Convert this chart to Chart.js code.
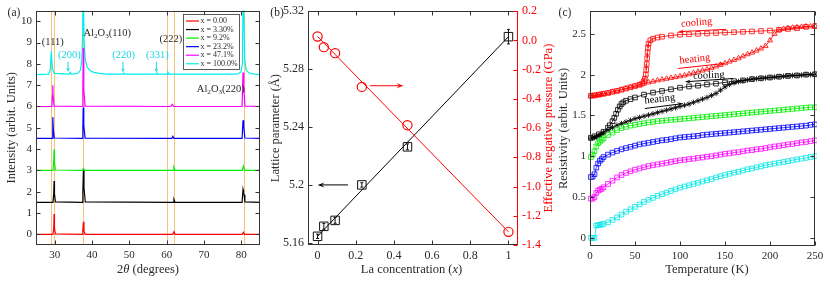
<!DOCTYPE html>
<html>
<head>
<meta charset="utf-8">
<script src="https://cdn.jsdelivr.net/npm/chart.js@4.4.0/dist/chart.umd.min.js"></script>
<style>
  html, body { margin: 0; padding: 0; background: #fff; }
  #wrap { position: relative; width: 830px; height: 286px; }
  canvas { position: absolute; top: 0; }
</style>
</head>
<body>
<div id="wrap">
  <canvas id="ca" width="268" height="286" style="left:0"></canvas>
  <canvas id="cb" width="288" height="286" style="left:268px"></canvas>
  <canvas id="cc" width="274" height="286" style="left:556px"></canvas>
</div>
<script>
// ---------- panel (a): XRD, [2theta, intensity] ----------
const xrdRed = [[25,0],[29.55,0],[29.75,0.3],[29.85,0.95],[29.95,0.3],[30.2,0.02],[37.35,0],[37.55,0.2],[37.7,0.59],[37.85,0.15],[38.2,0],
  [61.65,0],[61.95,0.12],[62.25,0],[80.25,0],[80.55,0.1],[80.85,0],[85,0]];
const xrdBlack = [[25,1.5],[29.55,1.5],[29.75,1.9],[29.85,2.5],[29.95,1.9],[30.2,1.52],[37.35,1.5],[37.55,2.0],[37.7,3.0],[37.85,2.2],[38.2,1.52],
  [61.7,1.5],[61.95,1.64],[62.25,1.5],[80.2,1.5],[80.45,2.1],[80.6,1.95],[80.75,1.85],[80.95,1.52],[85,1.5]];
const xrdGreen = [[25,3],[29.55,3],[29.75,3.4],[29.85,3.98],[29.95,3.4],[30.2,3.02],[37.4,3],[37.7,3.1],[38.0,3],
  [61.7,3],[61.95,3.15],[62.25,3],[80.25,3],[80.55,3.2],[80.85,3],[85,3]];
const xrdBlue = [[25,4.5],[29.3,4.5],[29.45,4.9],[29.55,5.5],[29.65,4.9],[29.9,4.52],[37.35,4.5],[37.55,5.0],[37.65,5.95],[37.8,5.1],[38.15,4.52],
  [61.4,4.5],[61.65,4.6],[61.95,4.5],[80.2,4.5],[80.45,5.35],[80.6,5.1],[80.7,5.05],[80.95,4.52],[85,4.5]];
const xrdMagenta = [[25,6],[29.25,6],[29.4,6.5],[29.5,7.0],[29.6,6.5],[29.85,6.02],[37.35,6],[37.55,6.8],[37.65,8.75],[37.8,6.8],[38.15,6.02],
  [61.1,6],[61.5,6.1],[61.9,6],[80.2,6],[80.45,7.6],[80.6,7.1],[80.7,7.05],[80.95,6.02],[85,6]];
const xrdCyan = [[25,7.5],[28.4,7.52],[28.8,7.7],[29.1,8.6],[29.4,7.8],[29.9,7.55],[33.9,7.52],[34.2,7.6],[34.5,7.52],
  [35.5,7.53],[36.3,7.57],[36.9,7.7],[37.3,8.2],[37.5,9.5],[37.6,12],[37.7,12],[37.9,9.0],[38.2,8.2],[38.7,7.85],[39.5,7.68],[40.5,7.6],[42,7.55],[44,7.52],
  [48.3,7.52],[48.5,7.57],[48.7,7.52],[57.2,7.52],[57.4,7.57],[57.6,7.52],[60.1,7.52],[60.35,7.6],[60.6,7.52],
  [78.5,7.52],[79.3,7.55],[79.9,7.62],[80.3,8.0],[80.5,12],[80.7,12],[80.9,8.2],[81.3,7.7],[82,7.58],[83,7.53],[85,7.5]];
const xrdSeries = [xrdRed, xrdBlack, xrdGreen, xrdBlue, xrdMagenta, xrdCyan];
const seriesLabels = ['x = 0.00', 'x = 3.30%', 'x = 9.2%', 'x = 23.2%', 'x = 47.1%', 'x = 100.0%'];
const seriesColors = ['#ff0000', '#000000', '#00ee00', '#0000ff', '#ff00ff', '#00eeee'];
const refLines = [28.95, 29.85, 37.6, 60.1, 61.95, 80.6];
const aTicksX = [30, 40, 50, 60, 70, 80];
const aTicksY = [0, 1, 2, 3, 4, 5, 6, 7, 8, 9, 10];

// ---------- panel (b): lattice / pressure ----------
const concX = [0, 0.033, 0.092, 0.232, 0.471, 1.0];
const latticeA = [5.1645, 5.1714, 5.1755, 5.2, 5.2263, 5.3024];
const latticeErr = [0.0015, 0.002, 0.002, 0.0015, 0.002, 0.005];
const pressure = [0.027, -0.046, -0.087, -0.318, -0.58, -1.31];
const fitX = [0, 1];
const latticeFit = [5.1645, 5.3024];
const pressureFit = [0.027, -1.31];
const bTicksX = [0, 0.2, 0.4, 0.6, 0.8, 1];
const bTicksY = [5.16, 5.2, 5.24, 5.28, 5.32];
const bTicksY2 = [0.2, 0, -0.2, -0.4, -0.6, -0.8, -1.0, -1.2, -1.4];

// ---------- panel (c): resistivity vs temperature ----------
const tempGrid = [1,3,5,7,9,11,13,15,
  20,25,30,35,40,45,50,55,60,65, 70,75,80,85,90,95,100,105,110,115,
  120,125,130,135,140,145,150,155,160,165, 170,175,180,185,190,195,200,205,210,215,
  220,225,230,235,240,245,250];
const rhoCyan = [0,0,0,0.15,0.155,0.16,0.165,0.17,
  0.19,0.22,0.25,0.285,0.32,0.35,0.38,0.41,0.44,0.465,
  0.49,0.515,0.535,0.555,0.575,0.595,0.615,0.63,0.645,0.66,
  0.675,0.69,0.705,0.72,0.74,0.755,0.77,0.785,0.80,0.81,
  0.825,0.84,0.85,0.865,0.875,0.89,0.90,0.91,0.92,0.93,
  0.94,0.95,0.96,0.97,0.98,0.99,1.0];
const rhoMagenta = [0.48,0.48,0.50,0.55,0.58,0.59,0.60,0.62,
  0.66,0.70,0.74,0.77,0.795,0.815,0.835,0.85,0.865,0.88,
  0.89,0.90,0.91,0.92,0.93,0.94,0.95,0.955,0.965,0.97,
  0.98,0.985,0.995,1.0,1.01,1.02,1.03,1.035,1.045,1.05,
  1.06,1.07,1.075,1.085,1.09,1.10,1.11,1.12,1.125,1.135,
  1.145,1.15,1.16,1.17,1.175,1.185,1.195];
const rhoBlue = [0.745,0.75,0.78,0.86,0.91,0.945,0.965,0.99,
  1.02,1.045,1.065,1.085,1.10,1.115,1.13,1.145,1.155,1.165,
  1.175,1.185,1.195,1.20,1.21,1.22,1.23,1.235,1.24,1.245,
  1.25,1.26,1.265,1.27,1.275,1.28,1.285,1.29,1.295,1.30,
  1.305,1.31,1.315,1.32,1.325,1.33,1.335,1.34,1.345,1.35,
  1.355,1.36,1.365,1.37,1.375,1.385,1.39];
const rhoGreen = [0.99,1.02,1.06,1.12,1.16,1.18,1.20,1.22,
  1.26,1.29,1.32,1.345,1.36,1.375,1.385,1.395,1.405,1.415,
  1.42,1.43,1.435,1.44,1.445,1.45,1.455,1.46,1.465,1.47,
  1.475,1.48,1.485,1.49,1.495,1.50,1.505,1.51,1.515,1.52,
  1.525,1.53,1.535,1.54,1.545,1.55,1.555,1.56,1.565,1.57,
  1.575,1.58,1.585,1.59,1.595,1.60,1.60];
const rhoBlackHeat = [1.22,1.225,1.23,1.24,1.25,1.26,1.27,1.29,
  1.32,1.35,1.38,1.40,1.42,1.44,1.46,1.475,1.49,1.505,
  1.52,1.535,1.55,1.565,1.58,1.595,1.61,1.625,1.64,1.66,
  1.68,1.70,1.72,1.745,1.77,1.81,1.85,1.88,1.90,1.915,
  1.925,1.935,1.945,1.95,1.955,1.96,1.965,1.97,1.975,1.98,
  1.985,1.99,1.99,1.995,2.0,2.0,2.005];
const rhoRedHeat = [1.74,1.74,1.745,1.745,1.75,1.755,1.76,1.765,
  1.775,1.79,1.80,1.815,1.83,1.845,1.86,1.875,1.89,1.905,
  1.915,1.93,1.94,1.95,1.96,1.97,1.98,1.99,2.005,2.02,
  2.035,2.05,2.065,2.08,2.10,2.12,2.14,2.16,2.18,2.20,
  2.225,2.25,2.27,2.295,2.32,2.35,2.42,2.50,2.545,2.56,
  2.57,2.575,2.58,2.585,2.59,2.59,2.595];
const blackCoolT = [250,240,230,220,210,200,190,180,170,160,150,140,130,120,110,100,90,80,70,60,50,
  45,40,37,35,33,31,29,27,25,22,20,15,10,5,1];
const rhoBlackCool = [2.005,2.0,1.99,1.985,1.975,1.965,1.955,1.945,1.93,1.92,1.905,1.89,1.88,1.865,1.855,1.84,1.82,1.80,1.78,1.755,1.72,
  1.70,1.68,1.66,1.64,1.61,1.57,1.52,1.47,1.43,1.38,1.35,1.30,1.27,1.245,1.225];
const redCoolT = [250,240,230,220,210,200,190,180,170,160,150,140,130,120,110,100,90,80,
  75,70,67,65,64.5,64,63.5,63,62.5,62,61,60,58,55,
  50,45,40,35,30,25,20,15,10,5,1];
const rhoRedCool = [2.595,2.585,2.57,2.56,2.55,2.54,2.535,2.53,2.525,2.52,2.515,2.51,2.505,2.50,2.495,2.49,2.48,2.465,
  2.455,2.44,2.42,2.38,2.33,2.27,2.20,2.13,2.06,2.00,1.95,1.92,1.89,1.875,
  1.86,1.845,1.83,1.815,1.80,1.79,1.775,1.765,1.755,1.745,1.74];
const cTicksX = [0, 50, 100, 150, 200, 250];
const cTicksY = [0, 0.5, 1, 1.5, 2, 2.5];

// ---------- helpers ----------
const SERIF = "'Liberation Serif','DejaVu Serif',serif";
Chart.defaults.font.family = SERIF;
const TXT = '#2a2a2a';

function richText(ctx, segs, x, y, size, color, angle, align) {
  const fnt = st => (st === 'i' ? 'italic ' : '') + (st === 's' ? size * 0.68 : size) + 'px ' + SERIF;
  let w = 0;
  segs.forEach(([t, st]) => { ctx.font = fnt(st); w += ctx.measureText(t).width; });
  ctx.save();
  ctx.translate(x, y);
  ctx.rotate((angle || 0) * Math.PI / 180);
  ctx.fillStyle = color;
  ctx.textAlign = 'left';
  ctx.textBaseline = 'middle';
  let cx = align === 'left' ? 0 : -w / 2;
  segs.forEach(([t, st]) => {
    ctx.font = fnt(st);
    ctx.fillText(t, cx, st === 's' ? size * 0.28 : 0);
    cx += ctx.measureText(t).width;
  });
  ctx.restore();
}

function arrow(ctx, x1, y1, x2, y2, color, head, hw) {
  const ang = Math.atan2(y2 - y1, x2 - x1);
  ctx.save();
  ctx.strokeStyle = color; ctx.fillStyle = color; ctx.lineWidth = 1;
  ctx.beginPath(); ctx.moveTo(x1, y1);
  ctx.lineTo(x2 - Math.cos(ang) * head * 0.6, y2 - Math.sin(ang) * head * 0.6); ctx.stroke();
  ctx.beginPath();
  ctx.moveTo(x2, y2);
  ctx.lineTo(x2 - Math.cos(ang) * head - Math.sin(ang) * hw, y2 - Math.sin(ang) * head + Math.cos(ang) * hw);
  ctx.lineTo(x2 - Math.cos(ang) * head * 0.6, y2 - Math.sin(ang) * head * 0.6);
  ctx.lineTo(x2 - Math.cos(ang) * head + Math.sin(ang) * hw, y2 - Math.sin(ang) * head - Math.cos(ang) * hw);
  ctx.closePath(); ctx.fill();
  ctx.restore();
}

function frame(chart, right, rightColor) {
  const { ctx, chartArea: a, scales } = chart;
  const L = Math.round(a.left) + 0.5, R = Math.round(a.right) - 0.5;
  const T = Math.round(a.top) + 0.5, B = Math.round(a.bottom) - 0.5;
  ctx.save();
  ctx.lineWidth = 1; ctx.strokeStyle = '#333';
  ctx.strokeRect(L, T, R - L, B - T);
  ctx.beginPath();
  scales.x.ticks.forEach(t => {
    const p = Math.round(scales.x.getPixelForValue(t.value)) + 0.5;
    ctx.moveTo(p, B); ctx.lineTo(p, B - 4); ctx.moveTo(p, T); ctx.lineTo(p, T + 4);
  });
  scales.y.ticks.forEach(t => {
    const p = Math.round(scales.y.getPixelForValue(t.value)) + 0.5;
    ctx.moveTo(L, p); ctx.lineTo(L + 4, p);
    if (!right) { ctx.moveTo(R, p); ctx.lineTo(R - 4, p); }
  });
  ctx.stroke();
  if (right) {
    const s = scales[right];
    ctx.strokeStyle = rightColor;
    ctx.beginPath(); ctx.moveTo(R, T); ctx.lineTo(R, B);
    s.ticks.forEach(t => {
      const p = Math.round(s.getPixelForValue(t.value)) + 0.5;
      ctx.moveTo(R, p); ctx.lineTo(R - 4, p);
    });
    ctx.stroke();
  }
  ctx.restore();
}

function axis(pos, min, max, ticks, size, w, fmt, color) {
  return {
    type: 'linear', position: pos, min: min, max: max,
    grid: { display: false, drawTicks: false },
    border: { display: false },
    ticks: { font: { size: size }, color: color || TXT, padding: 4, maxRotation: 0, autoSkip: false,
             callback: fmt || (v => String(v)) },
    afterBuildTicks: s => { s.ticks = ticks.map(v => ({ value: v })); },
    afterFit: s => { if (pos === 'bottom') s.height = w; else s.width = w; }
  };
}

const common = { responsive: false, animation: false, events: [],
  plugins: { legend: { display: false }, tooltip: { enabled: false } } };

// ---------- chart (a) ----------
const aNotes = [
  { segs: [['(111)', '']], x: 29.5, y: 9.03, color: TXT },
  { segs: [['(200)', '']], x: 33.95, y: 8.4, color: '#19d6e6' },
  { segs: [['Al', ''], ['2', 's'], ['O', ''], ['3', 's'], ['(110)', '']], x: 44.1, y: 9.44, color: TXT },
  { segs: [['(220)', '']], x: 48.5, y: 8.4, color: '#19d6e6' },
  { segs: [['(331)', '']], x: 57.5, y: 8.4, color: '#19d6e6' },
  { segs: [['(222)', '']], x: 61.1, y: 9.15, color: TXT },
  { segs: [['Al', ''], ['2', 's'], ['O', ''], ['3', 's'], ['(220)', '']], x: 74.5, y: 6.8, color: TXT }
];
const aArrows = [[33.6, 8.1, 7.62], [48.3, 8.1, 7.6], [57.25, 8.1, 7.6]];

new Chart(document.getElementById('ca'), {
  type: 'line',
  data: { datasets: xrdSeries.map((s, i) => ({
    data: s.map(p => ({ x: p[0], y: p[1] })),
    borderColor: seriesColors[i], borderWidth: 1.2, pointRadius: 0, tension: 0, clip: 0
  })) },
  options: Object.assign({}, common, {
    layout: { padding: { left: 0, right: 8, top: 10, bottom: 0 } },
    scales: {
      x: axis('bottom', 25, 85, aTicksX, 11, 41),
      y: axis('left', -0.5, 10.5, aTicksY, 11, 36)
    }
  }),
  plugins: [{
    id: 'aDecor',
    beforeDatasetsDraw(chart) {
      const { ctx, chartArea: a, scales } = chart;
      ctx.save(); ctx.strokeStyle = '#f7c27e'; ctx.lineWidth = 1;
      ctx.beginPath();
      refLines.forEach(v => {
        const p = Math.round(scales.x.getPixelForValue(v)) + 0.5;
        ctx.moveTo(p, a.top); ctx.lineTo(p, a.bottom);
      });
      ctx.stroke(); ctx.restore();
    },
    afterDraw(chart) {
      const { ctx, chartArea: a, scales } = chart;
      frame(chart);
      aNotes.forEach(n => richText(ctx, n.segs, scales.x.getPixelForValue(n.x), scales.y.getPixelForValue(n.y), 10.5, n.color, 0));
      aArrows.forEach(([x, y1, y2]) => {
        const px = scales.x.getPixelForValue(x);
        arrow(ctx, px, scales.y.getPixelForValue(y1), px, scales.y.getPixelForValue(y2), '#19d6e6', 4.5, 2);
      });
      // legend box
      ctx.save();
      ctx.fillStyle = '#fff'; ctx.fillRect(183.5, 14.5, 56, 55);
      ctx.strokeStyle = '#333'; ctx.lineWidth = 0.8; ctx.strokeRect(183.5, 14.5, 56, 55);
      seriesLabels.forEach((lab, i) => {
        const y = 21 + i * 8.55;
        ctx.strokeStyle = seriesColors[i]; ctx.lineWidth = 1.2;
        ctx.beginPath(); ctx.moveTo(186, y); ctx.lineTo(199, y); ctx.stroke();
        richText(ctx, [[lab, '']], 200.5, y, 8, TXT, 0, 'left');
      });
      ctx.restore();
      richText(ctx, [['Intensity (arbit. Units)', '']], 12, (a.top + a.bottom) / 2, 12.5, TXT, -90);
      richText(ctx, [['2', ''], ['\u03b8', 'i'], [' (degrees)', '']], 148, 270, 12.5, TXT, 0);
      richText(ctx, [['(a)', '']], 14, 13, 11.5, TXT, 0);
    }
  }]
});

// ---------- chart (b) ----------
new Chart(document.getElementById('cb'), {
  type: 'line',
  data: { datasets: [
    { data: fitX.map((x, i) => ({ x: x, y: pressureFit[i] })), yAxisID: 'y2', borderColor: '#ff0000', borderWidth: 1, pointRadius: 0 },
    { data: concX.map((x, i) => ({ x: x, y: pressure[i] })), yAxisID: 'y2', showLine: false, pointStyle: 'circle',
      pointRadius: 4.6, borderColor: '#ff0000', pointBorderWidth: 1.2, backgroundColor: 'rgba(0,0,0,0)' },
    { data: fitX.map((x, i) => ({ x: x, y: latticeFit[i] })), yAxisID: 'y', borderColor: '#000', borderWidth: 1, pointRadius: 0 },
    { data: concX.map((x, i) => ({ x: x, y: latticeA[i] })), yAxisID: 'y', showLine: false, pointStyle: 'rect',
      pointRadius: 6, borderColor: '#111', pointBorderWidth: 1, backgroundColor: 'rgba(0,0,0,0)' }
  ] },
  options: Object.assign({}, common, {
    layout: { padding: { left: 0, right: 0, top: 11, bottom: 0 } },
    scales: {
      x: axis('bottom', -0.05, 1.05, bTicksX, 12, 41),
      y: axis('left', 5.1585, 5.32, bTicksY, 12, 40, v => String(+v.toFixed(2))),
      y2: axis('right', -1.4, 0.2, bTicksY2, 12, 38, v => v.toFixed(1), '#ff0000')
    }
  }),
  plugins: [{
    id: 'bDecor',
    afterDraw(chart) {
      const { ctx, chartArea: a, scales } = chart;
      const sx = scales.x, sy = scales.y, s2 = scales.y2;
      ctx.save(); ctx.strokeStyle = '#111'; ctx.lineWidth = 1;
      concX.forEach((x, i) => {
        const px = sx.getPixelForValue(x);
        const p1 = sy.getPixelForValue(latticeA[i] + latticeErr[i]);
        const p2 = sy.getPixelForValue(latticeA[i] - latticeErr[i]);
        ctx.beginPath();
        ctx.moveTo(px, p1); ctx.lineTo(px, p2);
        ctx.moveTo(px - 1.5, p1); ctx.lineTo(px + 1.5, p1);
        ctx.moveTo(px - 1.5, p2); ctx.lineTo(px + 1.5, p2);
        ctx.stroke();
      });
      ctx.restore();
      frame(chart, 'y2', '#ff0000');
      arrow(ctx, sx.getPixelForValue(0.16), sy.getPixelForValue(5.2), sx.getPixelForValue(0.0), sy.getPixelForValue(5.2), '#000', 7, 2.5);
      arrow(ctx, sx.getPixelForValue(0.275), s2.getPixelForValue(-0.31), sx.getPixelForValue(0.45), s2.getPixelForValue(-0.31), '#ff0000', 7, 2.5);
      richText(ctx, [['Lattice parameter (\u00c5)', '']], 8, (a.top + a.bottom) / 2, 12.5, TXT, -90);
      richText(ctx, [['Effective negative pressure (GPa)', '']], 281, (a.top + a.bottom) / 2, 12.5, '#ff0000', -90);
      richText(ctx, [['La concentration (', ''], ['x', 'i'], [')', '']], 143.5, 270, 12.5, TXT, 0);
      richText(ctx, [['(b)', '']], 9, 13, 11.5, TXT, 0);
    }
  }]
});

// ---------- chart (c) ----------
const cNotes = [
  { text: 'cooling', T: 118.5, v: 2.635, color: '#ff0000', angle: -5 },
  { text: 'heating', T: 116.5, v: 2.19, color: '#ff0000', angle: -6 },
  { text: 'cooling', T: 132, v: 1.99, color: '#000000', angle: -3 },
  { text: 'heating', T: 77.5, v: 1.70, color: '#000000', angle: -6 }
];
const cArrows = [
  { from: [151, 2.555], to: [98, 2.526], color: '#ff0000' },
  { from: [98, 2.076], to: [150, 2.138], color: '#ff0000' },
  { from: [159, 1.953], to: [105.5, 1.912], color: '#000000' },
  { from: [61, 1.585], to: [103.5, 1.646], color: '#000000' }
];
function rhoSet(ts, vals, color, style, r) {
  return { data: ts.map((t, i) => ({ x: t, y: vals[i] })), borderColor: color, borderWidth: 0.8,
    pointStyle: style, pointRadius: r, pointBorderWidth: 0.8, pointBorderColor: color,
    backgroundColor: 'rgba(0,0,0,0)', pointBackgroundColor: 'rgba(0,0,0,0)', tension: 0, clip: 2 };
}
new Chart(document.getElementById('cc'), {
  type: 'line',
  data: { datasets: [
    rhoSet(tempGrid, rhoCyan, '#00e6e6', 'rect', 3.3),
    rhoSet(tempGrid, rhoMagenta, '#ff00ff', 'rect', 3.3),
    rhoSet(tempGrid, rhoBlue, '#0000ff', 'rect', 3.3),
    rhoSet(tempGrid, rhoGreen, '#00ee00', 'rect', 3.3),
    rhoSet(tempGrid, rhoBlackHeat, '#000000', 'star', 2.8),
    rhoSet(blackCoolT, rhoBlackCool, '#000000', 'rect', 3.3),
    rhoSet(tempGrid, rhoRedHeat, '#ff0000', 'triangle', 3),
    rhoSet(redCoolT, rhoRedCool, '#ff0000', 'rect', 3.3)
  ] },
  options: Object.assign({}, common, {
    layout: { padding: { left: 0, right: 15, top: 11, bottom: 0 } },
    scales: {
      x: axis('bottom', 0, 250, cTicksX, 11, 40),
      y: axis('left', -0.1, 2.78, cTicksY, 11, 34)
    }
  }),
  plugins: [{
    id: 'cDecor',
    afterDraw(chart) {
      const { ctx, chartArea: a, scales } = chart;
      const sx = scales.x, sy = scales.y;
      frame(chart);
      cNotes.forEach(n => richText(ctx, [[n.text, '']], sx.getPixelForValue(n.T), sy.getPixelForValue(n.v), 10.5, n.color, n.angle));
      cArrows.forEach(r => arrow(ctx, sx.getPixelForValue(r.from[0]), sy.getPixelForValue(r.from[1]),
        sx.getPixelForValue(r.to[0]), sy.getPixelForValue(r.to[1]), r.color, 6, 2));
      richText(ctx, [['Resistivity (arbit. Units)', '']], 8, (a.top + a.bottom) / 2, 12.5, TXT, -90);
      richText(ctx, [['Temperature (K)', '']], 151, 270, 12.5, TXT, 0);
      richText(ctx, [['(c)', '']], 9, 13, 11.5, TXT, 0);
    }
  }]
});
</script>
</body>
</html>
